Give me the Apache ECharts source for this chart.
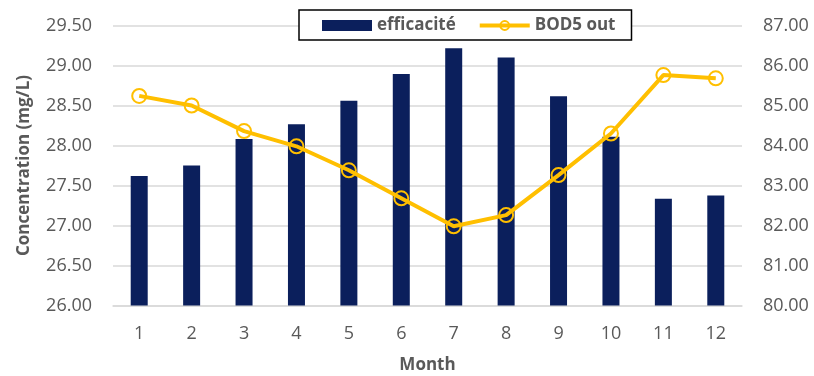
<!DOCTYPE html>
<html>
<head>
<meta charset="utf-8">
<style>
  html, body { margin: 0; padding: 0; background: #ffffff; }
  #chart { width: 814px; height: 376px; }
</style>
<script src="https://cdn.jsdelivr.net/npm/echarts@6/dist/echarts.min.js"></script>
</head>
<body>
<div id="chart"></div>
<script>
// Monthly treatment data
const months = ['1', '2', '3', '4', '5', '6', '7', '8', '9', '10', '11', '12'];
// Removal efficiency (%), right axis
const efficacite = [83.24, 83.50, 84.16, 84.53, 85.12, 85.79, 86.43, 86.20, 85.23, 84.22, 82.67, 82.75];
// Effluent BOD5 concentration (mg/L), left axis
const bod5Out = [28.62, 28.50, 28.18, 27.99, 27.69, 27.34, 26.99, 27.13, 27.63, 28.15, 28.88, 28.84];

const FONT = 'Open Sans';
const GREY = '#595959';
const NAVY = '#0b1f5c';
const GOLD = '#ffbf00';

const chart = echarts.init(document.getElementById('chart'), null, { renderer: 'canvas' });

chart.setOption({
  backgroundColor: '#ffffff',
  animation: false,
  textStyle: { fontFamily: FONT },
  grid: { left: 113, right: 72, top: 25.5, bottom: 70.5, containLabel: false, outerBoundsMode: 'none' },
  legend: {
    left: 299,
    top: 10,
    padding: [7, 16, 6, 23],
    itemGap: 22,
    itemWidth: 50,
    itemHeight: 11,
    borderColor: '#000000',
    borderWidth: 1.5,
    backgroundColor: '#ffffff',
    textStyle: { fontFamily: FONT, fontSize: 17, fontWeight: 'bold', color: GREY },
    data: [
      { name: 'efficacité', icon: 'rect' },
      { name: 'BOD5 out', lineStyle: { width: 4, color: GOLD } }
    ]
  },
  xAxis: {
    type: 'category',
    data: months,
    name: 'Month',
    nameLocation: 'middle',
    nameGap: 51,
    nameTextStyle: { fontFamily: FONT, fontSize: 17, fontWeight: 'bold', color: GREY },
    axisLine: { show: true, lineStyle: { color: '#d9d9d9', width: 1.5 } },
    axisTick: { show: false },
    axisLabel: { margin: 19, fontFamily: FONT, fontSize: 18, color: GREY }
  },
  yAxis: [
    {
      type: 'value',
      min: 26,
      max: 29.5,
      interval: 0.5,
      name: 'Concentration (mg/L)',
      nameLocation: 'middle',
      nameGap: 80,
      nameTextStyle: { fontFamily: FONT, fontSize: 17, fontWeight: 'bold', color: GREY },
      axisLine: { show: false },
      axisTick: { show: false },
      splitLine: { lineStyle: { color: '#d9d9d9', width: 1.5 } },
      axisLabel: {
        margin: 21,
        fontFamily: FONT,
        fontSize: 18,
        color: GREY,
        formatter: v => v.toFixed(2)
      }
    },
    {
      type: 'value',
      min: 80,
      max: 87,
      interval: 1,
      position: 'right',
      axisLine: { show: false },
      axisTick: { show: false },
      splitLine: { show: false },
      axisLabel: {
        margin: 21,
        fontFamily: FONT,
        fontSize: 18,
        color: GREY,
        formatter: v => v.toFixed(2)
      }
    }
  ],
  series: [
    {
      name: 'efficacité',
      type: 'bar',
      yAxisIndex: 1,
      data: efficacite,
      barWidth: 17,
      itemStyle: { color: NAVY }
    },
    {
      name: 'BOD5 out',
      type: 'line',
      yAxisIndex: 0,
      data: bod5Out,
      symbol: 'circle',
      symbolSize: 14,
      lineStyle: { color: GOLD, width: 4 },
      itemStyle: { color: 'rgba(255,255,255,0)', borderColor: GOLD, borderWidth: 2 },
      z: 3
    }
  ]
});
</script>
</body>
</html>
